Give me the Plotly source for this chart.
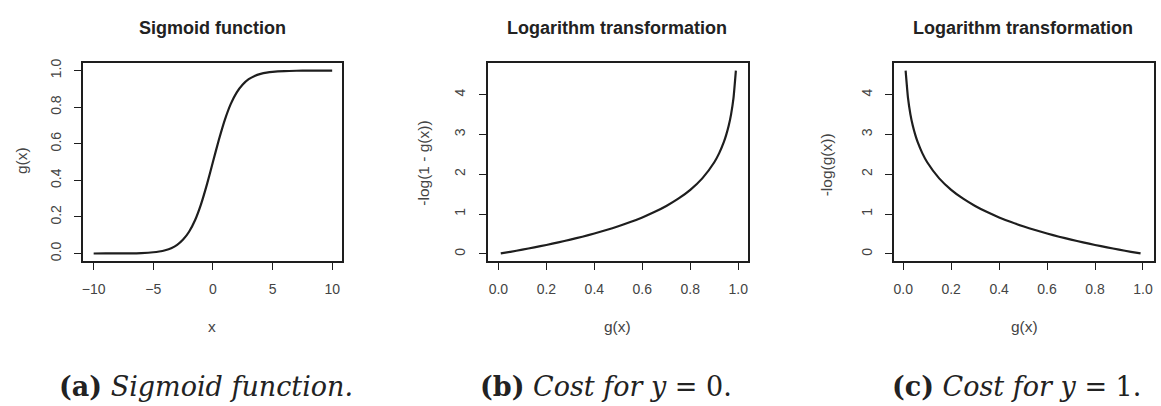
import plotly.graph_objects as go

# Sigmoid curve samples
sig_x = [-10, -9, -8, -7, -6, -5, -4.5, -4, -3.5, -3, -2.5, -2, -1.5, -1, -0.5,
         0, 0.5, 1, 1.5, 2, 2.5, 3, 3.5, 4, 4.5, 5, 6, 7, 8, 9, 10]
sig_y = [0.0000, 0.0001, 0.0003, 0.0009, 0.0025, 0.0067, 0.011, 0.018, 0.029,
         0.047, 0.076, 0.119, 0.182, 0.269, 0.378, 0.500, 0.622, 0.731, 0.818,
         0.881, 0.924, 0.953, 0.971, 0.982, 0.989, 0.9933, 0.9975, 0.9991,
         0.9997, 0.9999, 1.0000]

# Cost for y = 0: -log(1 - g(x))
cost0_g = [0.01, 0.05, 0.10, 0.15, 0.20, 0.25, 0.30, 0.35, 0.40, 0.45, 0.50, 0.55,
           0.60, 0.65, 0.70, 0.75, 0.80, 0.85, 0.90, 0.92, 0.94, 0.95, 0.96,
           0.97, 0.98, 0.99]
cost0_v = [0.010, 0.051, 0.105, 0.163, 0.223, 0.288, 0.357, 0.431, 0.511, 0.598,
           0.693, 0.799, 0.916, 1.050, 1.204, 1.386, 1.609, 1.897, 2.303, 2.526,
           2.813, 2.996, 3.219, 3.507, 3.912, 4.605]

# Cost for y = 1: -log(g(x))
cost1_g = [0.01, 0.02, 0.03, 0.04, 0.05, 0.06, 0.08, 0.10, 0.15, 0.20, 0.25, 0.30,
           0.35, 0.40, 0.45, 0.50, 0.55, 0.60, 0.65, 0.70, 0.75, 0.80, 0.85,
           0.90, 0.95, 0.99]
cost1_v = [4.605, 3.912, 3.507, 3.219, 2.996, 2.813, 2.526, 2.303, 1.897, 1.609,
           1.386, 1.204, 1.050, 0.916, 0.799, 0.693, 0.598, 0.511, 0.431, 0.357,
           0.288, 0.223, 0.163, 0.105, 0.051, 0.010]

panel_titles = ["Sigmoid function", "Logarithm transformation", "Logarithm transformation"]
x_titles = ["x", "g(x)", "g(x)"]
y_titles = ["g(x)", "-log(1 - g(x))", "-log(g(x))"]
captions = ["<b>(a)</b> <i>Sigmoid function.</i>",
            "<b>(b)</b> <i>Cost for y</i> = 0.",
            "<b>(c)</b> <i>Cost for y</i> = 1."]

sig_ticks = [-10, -5, 0, 5, 10]
sig_yticks = [0.0, 0.2, 0.4, 0.6, 0.8, 1.0]
g_ticks = [0.0, 0.2, 0.4, 0.6, 0.8, 1.0]
cost_yticks = [0, 1, 2, 3, 4]

W, H = 1161, 406
INK = "#1e1e1e"
TXT = "#444444"
SANS = "Liberation Sans, Arial, sans-serif"
SERIF = "DejaVu Serif, serif"

# plot boxes in pixels: (left, right)
boxes_x = [(82, 341), (487, 748), (894, 1154)]
box_top, box_bot = 59, 259
ydom = [1 - box_bot / H, 1 - box_top / H]

fig = go.Figure()
series = [(sig_x, sig_y), (cost0_g, cost0_v), (cost1_g, cost1_v)]
for i, (xs, ys) in enumerate(series):
    fig.add_trace(go.Scatter(x=xs, y=ys, mode="lines",
                             line=dict(color=INK, width=2.2, shape="spline", smoothing=0.5),
                             xaxis=f"x{i + 1}", yaxis=f"y{i + 1}", showlegend=False,
                             hoverinfo="skip"))

x_ranges = [[-10.9, 10.8], [-0.045, 1.042], [-0.0375, 1.046]]
y_ranges = [[-0.04, 1.04], [-0.175, 4.79], [-0.175, 4.79]]
x_tickvals = [sig_ticks, g_ticks, g_ticks]
y_tickvals = [sig_yticks, cost_yticks, cost_yticks]
y_fmt = [".1f", "d", "d"]

common = dict(showgrid=False, zeroline=False, showline=True, mirror=True,
              linecolor=INK, linewidth=1.6, ticks="outside", ticklen=7,
              tickwidth=1.4, tickcolor=INK,
              tickfont=dict(family=SANS, size=14, color=TXT), fixedrange=True)

layout = {}
for i in range(3):
    l, r = boxes_x[i]
    sfx = "" if i == 0 else str(i + 1)
    layout[f"xaxis{sfx}"] = dict(domain=[l / W, r / W], range=x_ranges[i],
                                 tickvals=x_tickvals[i], tickformat=".1f" if i else "d",
                                 anchor=f"y{i + 1}", ticklabelstandoff=8, **common)
    layout[f"yaxis{sfx}"] = dict(domain=ydom, range=y_ranges[i],
                                 tickvals=y_tickvals[i], tickformat=y_fmt[i],
                                 anchor=f"x{i + 1}", tickangle=-90,
                                 ticklabelstandoff=8, **common)

annotations = []
title_cx = [212, 617, 1023]
ytitle_x = [20, 422, 826]
ytitle_y = [157, 160, 162]
caption_cx = [205, 606, 1016]
for i in range(3):
    l, r = boxes_x[i]
    annotations.append(dict(text=f"<b>{panel_titles[i]}</b>", x=title_cx[i] / W, y=1 - 23 / H,
                            xref="paper", yref="paper", showarrow=False,
                            xanchor="center", yanchor="middle",
                            font=dict(family=SANS, size=18, color="#222")))
    annotations.append(dict(text=x_titles[i], x=(l + r) / 2 / W, y=1 - 326 / H,
                            xref="paper", yref="paper", showarrow=False,
                            xanchor="center", yanchor="middle",
                            font=dict(family=SANS, size=15.5, color=TXT)))
    annotations.append(dict(text=y_titles[i], x=ytitle_x[i] / W, y=1 - ytitle_y[i] / H,
                            xref="paper", yref="paper", showarrow=False, textangle=-90,
                            xanchor="center", yanchor="middle",
                            font=dict(family=SANS, size=15.5, color=TXT)))
    annotations.append(dict(text=captions[i], x=caption_cx[i] / W, y=1 - 386 / H,
                            xref="paper", yref="paper", showarrow=False,
                            xanchor="center", yanchor="middle",
                            font=dict(family=SERIF, size=27, color="#222")))

fig.update_layout(width=W, height=H, margin=dict(l=0, r=0, t=0, b=0),
                  paper_bgcolor="white", plot_bgcolor="white",
                  annotations=annotations, **layout)

fig.write_html("out.html", config={"displayModeBar": False})
